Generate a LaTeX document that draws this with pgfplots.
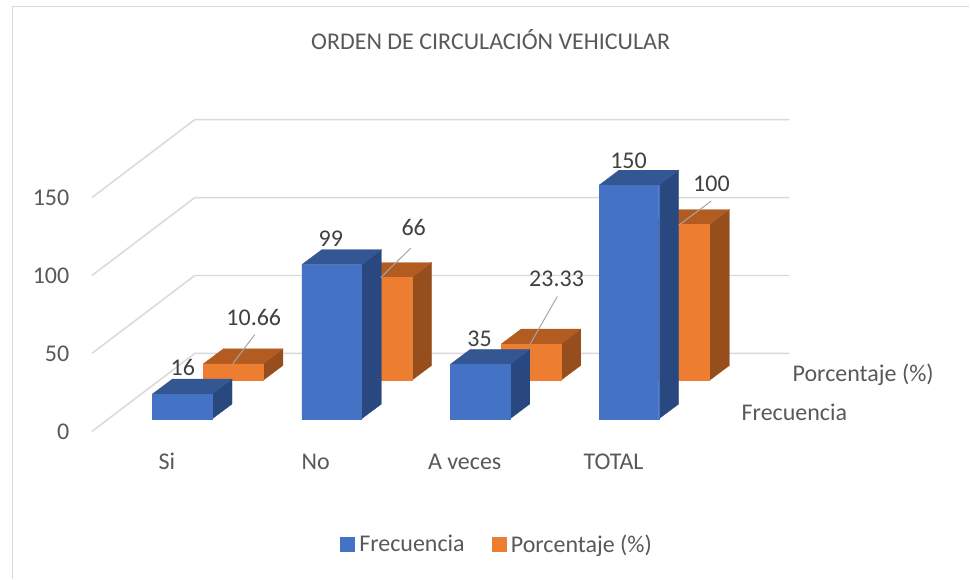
\documentclass[border=0pt]{standalone}
\usepackage{pgfplots}
\usepackage{fontspec}
\setmainfont{Carlito}
\pgfplotsset{compat=1.18}
\definecolor{gridc}{HTML}{D9D9D9}
\definecolor{tickc}{HTML}{595959}
\definecolor{labc}{HTML}{404040}
\definecolor{leadc}{HTML}{A6A6A6}
\definecolor{bF}{HTML}{4472C4}
\definecolor{bT}{HTML}{345693}
\definecolor{bS}{HTML}{2A4880}
\definecolor{oF}{HTML}{ED7D31}
\definecolor{oT}{HTML}{B35C21}
\definecolor{oS}{HTML}{964F1C}
\newcommand{\fs}{\fontsize{18pt}{21pt}\selectfont}
% left x (px), base (axis value), bar value, colours
\newcommand{\threedbar}[6]{%
  \pgfmathsetmacro{\xa}{#1}\pgfmathsetmacro{\xb}{#1+59.7}%
  \pgfmathsetmacro{\xc}{#1+79.7}\pgfmathsetmacro{\xd}{#1+20}%
  \pgfmathsetmacro{\ya}{#2}\pgfmathsetmacro{\yb}{#2+#3}%
  \pgfmathsetmacro{\yc}{#2+#3+9.6}\pgfmathsetmacro{\yd}{#2+9.6}%
  \addplot[fill=#6,draw=#6,line width=0.2pt,forget plot] coordinates {(\xb,\ya)(\xc,\yd)(\xc,\yc)(\xb,\yb)(\xb,\ya)};
  \addplot[fill=#5,draw=#5,line width=0.2pt,forget plot] coordinates {(\xa,\yb)(\xb,\yb)(\xc,\yc)(\xd,\yc)(\xa,\yb)};
  \addplot[fill=#4,draw=#4,line width=0.2pt,forget plot] coordinates {(\xa,\ya)(\xb,\ya)(\xb,\yb)(\xa,\yb)(\xa,\ya)};
}
\begin{document}
\begin{tikzpicture}
\begin{axis}[
  x=0.75pt, y=1.17pt,
  xmin=0, xmax=970, ymin=-94.42, ymax=276.73,
  axis background/.style={fill=white},
  axis line style={draw=none},
  tick style={draw=none},
  major tick length=0pt,
  clip=false,
  xtick={167,316,465,614},
  xticklabels={Si,No,A veces,TOTAL},
  ytick={0,50,100,150},
  /pgf/number format/assume math mode=true,
  tick label style={font=\fs,text=tickc},
  xticklabel style={anchor=center,yshift=87.75pt},
  yticklabel style={anchor=east,xshift=55.5pt},
  title={ORDEN DE CIRCULACIÓN VEHICULAR},
  title style={at={(rel axis cs:0.5062,0.9292)},anchor=center,yshift=-5.25pt,font=\fs,text=tickc},
  legend style={at={(rel axis cs:0.5131,0.0585)},anchor=center,draw=none,fill=none,
    font=\fs,text=tickc,legend columns=2,
    /tikz/column 1/.style={column sep=1.5pt},
    /tikz/column 2/.style={column sep=18.25pt},
    /tikz/column 3/.style={column sep=1.5pt},inner sep=0pt},
  legend image code/.code={\fill[#1] (0pt,-5.25pt) rectangle (10.5pt,5.25pt);},
]
\addlegendimage{bF}\addlegendentry{Frecuencia}
\addlegendimage{oF}\addlegendentry{Porcentaje (\%)}
% chart frame
\addplot[gridc,line width=1.1pt,forget plot] coordinates {(12.5,-94.42)(12.5,272.6)(970,272.6)};
% walls
\addplot[gridc,line width=1.1pt,forget plot] coordinates {(92,0)(195,50)(790,50)};
\addplot[gridc,line width=1.1pt,forget plot] coordinates {(92,50)(195,100)(790,100)};
\addplot[gridc,line width=1.1pt,forget plot] coordinates {(92,100)(195,150)(790,150)};
\addplot[gridc,line width=1.1pt,forget plot] coordinates {(92,150)(195,200)(790,200)};
% Porcentaje
\threedbar{203.5}{32.7}{10.66}{oF}{oT}{oS}
\threedbar{352.3}{32.7}{66}{oF}{oT}{oS}
\threedbar{501.5}{32.7}{23.33}{oF}{oT}{oS}
\threedbar{650.3}{32.7}{100}{oF}{oT}{oS}
% Frecuencia
\threedbar{152.5}{7.95}{16}{bF}{bT}{bS}
\threedbar{302}{7.95}{99}{bF}{bT}{bS}
\threedbar{450.5}{7.95}{35}{bF}{bT}{bS}
\threedbar{599.5}{7.95}{150}{bF}{bT}{bS}
% leader lines
\addplot[leadc,line width=0.75pt,forget plot] coordinates {(233,43.5)(255,62.1)};
\addplot[leadc,line width=0.75pt,forget plot] coordinates {(381,98.7)(411,117.5)};
\addplot[leadc,line width=0.75pt,forget plot] coordinates {(530.7,56.2)(557.7,86.5)};
\addplot[leadc,line width=0.75pt,forget plot] coordinates {(679.3,132.3)(711.7,147.7)};
% data labels
\tikzset{dl/.style={font=\fs,text=labc,anchor=center,inner sep=0pt}}
\node[dl] at (axis cs:183,{(431.7-368)/1.56}) {16};
\node[dl] at (axis cs:254,{(431.7-318)/1.56}) {10.66};
\node[dl] at (axis cs:331,{(431.7-239)/1.56}) {99};
\node[dl] at (axis cs:414,{(431.7-228)/1.56}) {66};
\node[dl] at (axis cs:480,{(431.7-339)/1.56}) {35};
\node[dl] at (axis cs:557,{(431.7-279)/1.56}) {23.33};
\node[dl] at (axis cs:629,{(431.7-161)/1.56}) {150};
\node[dl] at (axis cs:712,{(431.7-184)/1.56}) {100};
% series axis labels
\node[font=\fs,text=tickc,anchor=west,inner sep=0pt] at (axis cs:793,{(431.7-375)/1.56}) {Porcentaje (\%)};
\node[font=\fs,text=tickc,anchor=west,inner sep=0pt] at (axis cs:742,{(431.7-413)/1.56}) {Frecuencia};
\end{axis}
\end{tikzpicture}
\end{document}
